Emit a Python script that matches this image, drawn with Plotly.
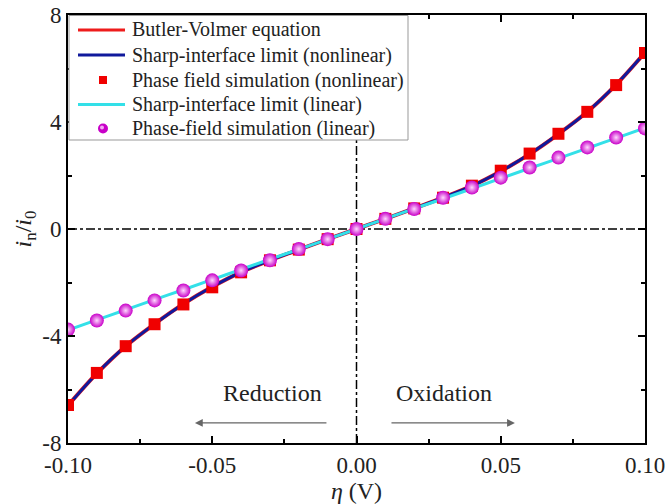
import plotly.graph_objects as go

eta = [-0.10, -0.09, -0.08, -0.07, -0.06, -0.05, -0.04, -0.03, -0.02, -0.01, 0.00,
       0.01, 0.02, 0.03, 0.04, 0.05, 0.06, 0.07, 0.08, 0.09, 0.10]
bv_curve = [-6.6, -5.4, -4.38, -3.55, -2.8, -2.16, -1.61, -1.17, -0.77, -0.38, 0.0,
            0.38, 0.77, 1.17, 1.61, 2.16, 2.8, 3.55, 4.38, 5.4, 6.6]
sharp_nonlin = [-6.6, -5.4, -4.38, -3.55, -2.8, -2.16, -1.61, -1.17, -0.77, -0.38, 0.0,
                0.38, 0.77, 1.17, 1.61, 2.16, 2.8, 3.55, 4.38, 5.4, 6.6]
pf_nonlin = [-6.58, -5.38, -4.38, -3.56, -2.82, -2.18, -1.62, -1.17, -0.77, -0.38, 0.0,
             0.38, 0.77, 1.17, 1.62, 2.18, 2.82, 3.56, 4.38, 5.38, 6.58]
sharp_lin = [-3.78, -3.4, -3.02, -2.64, -2.27, -1.89, -1.51, -1.13, -0.76, -0.38, 0.0,
             0.38, 0.76, 1.13, 1.51, 1.89, 2.27, 2.64, 3.02, 3.4, 3.78]
pf_lin = [-3.76, -3.42, -3.05, -2.67, -2.3, -1.92, -1.55, -1.17, -0.75, -0.38, 0.0,
          0.38, 0.75, 1.17, 1.55, 1.92, 2.3, 2.67, 3.05, 3.42, 3.76]

x_ticks = [-0.10, -0.05, 0.00, 0.05, 0.10]
x_ticktext = ["-0.10", "-0.05", "0.00", "0.05", "0.10"]
y_ticks = [-8, -4, 0, 4, 8]
y_ticktext = ["-8", "-4", "0", "4", "8"]

legend_labels = ["Butler-Volmer equation",
                 "Sharp-interface limit (nonlinear)",
                 "Phase field simulation (nonlinear)",
                 "Sharp-interface limit (linear)",
                 "Phase-field simulation (linear)"]

FONT = "Liberation Serif, Times New Roman, serif"
C_BV = "#ee1c1c"
C_SN = "#101a9c"
C_SL = "#33e0e8"
C_PN = "#f00000"
C_PL = "#c800c8"

W, H = 670, 504
L, R, T, B = 68, 25, 15, 61
PW, PH = W - L - R, H - T - B


def px(xs):
    # screen pixel -> plot-relative paper coordinate
    return (xs - L) / PW


def py(ys):
    return (H - B - ys) / PH


fig = go.Figure()
fig.add_trace(go.Scatter(x=eta, y=bv_curve, mode="lines", name=legend_labels[0],
                         line=dict(color=C_BV, width=4, shape="spline")))
fig.add_trace(go.Scatter(x=eta, y=sharp_nonlin, mode="lines", name=legend_labels[1],
                         line=dict(color=C_SN, width=3, shape="spline")))
fig.add_trace(go.Scatter(x=eta, y=sharp_lin, mode="lines", name=legend_labels[3],
                         line=dict(color=C_SL, width=3, shape="spline")))
fig.add_trace(go.Scatter(x=eta, y=pf_nonlin, mode="markers", name=legend_labels[2],
                         marker=dict(symbol="square", color=C_PN, size=12, line=dict(width=0))))
fig.add_trace(go.Scatter(x=eta, y=pf_lin, mode="markers", name=legend_labels[4],
                         marker=dict(symbol="circle", color=C_PL, size=14,
                                     gradient=dict(type="radial", color="#ffd8ff"),
                                     line=dict(width=0))))

# dash-dot reference lines
fig.add_shape(type="line", x0=0, x1=0, y0=-8, y1=8, xref="x", yref="y",
              line=dict(color="black", width=1.5, dash="dashdot"), layer="below")
fig.add_shape(type="line", x0=-0.10, x1=0.10, y0=0, y1=0, xref="x", yref="y",
              line=dict(color="black", width=1.5, dash="dashdot"), layer="below")

# arrows and labels
fig.add_annotation(x=-0.056, y=-7.25, ax=-0.0099, ay=-7.25, xref="x", yref="y", axref="x", ayref="y",
                   text="", showarrow=True, arrowhead=2, arrowsize=1.2, arrowwidth=1.3, arrowcolor="#666666")
fig.add_annotation(x=0.0549, y=-7.25, ax=0.0116, ay=-7.25, xref="x", yref="y", axref="x", ayref="y",
                   text="", showarrow=True, arrowhead=2, arrowsize=1.2, arrowwidth=1.3, arrowcolor="#666666")
fig.add_annotation(x=-0.0291, y=-6.13, xref="x", yref="y", text="Reduction", showarrow=False,
                   font=dict(family=FONT, size=24, color="#222"))
fig.add_annotation(x=0.0303, y=-6.13, xref="x", yref="y", text="Oxidation", showarrow=False,
                   font=dict(family=FONT, size=24, color="#222"))

# custom legend (drawn in plot-relative paper coordinates)
fig.add_shape(type="rect", xref="paper", yref="paper", x0=px(69), x1=px(408), y0=py(140), y1=py(15.5),
              fillcolor="white", line=dict(color="#999999", width=1), layer="above")
row_y = [30, 55, 80, 104.5, 128.5]
line_rows = [(0, C_BV, 3), (1, C_SN, 3), (3, C_SL, 3)]
for idx, col, wdt in line_rows:
    fig.add_shape(type="line", xref="paper", yref="paper", x0=px(78), x1=px(125),
                  y0=py(row_y[idx]), y1=py(row_y[idx]), line=dict(color=col, width=wdt), layer="above")
fig.add_shape(type="rect", xref="paper", yref="paper", x0=px(99), x1=px(107),
              y0=py(row_y[2] + 4), y1=py(row_y[2] - 4), fillcolor=C_PN, line=dict(width=0), layer="above")
fig.add_shape(type="circle", xref="paper", yref="paper", x0=px(98), x1=px(108),
              y0=py(row_y[4] + 5), y1=py(row_y[4] - 5), fillcolor=C_PL, line=dict(width=0), layer="above")
fig.add_shape(type="circle", xref="paper", yref="paper", x0=px(100), x1=px(104),
              y0=py(row_y[4] + 1), y1=py(row_y[4] - 3), fillcolor="#f2a8f2", line=dict(width=0), layer="above")
for i, lab in enumerate(legend_labels):
    fig.add_annotation(x=px(130), y=py(row_y[i]), xref="paper", yref="paper", text=lab,
                       showarrow=False, xanchor="left", yanchor="middle",
                       font=dict(family=FONT, size=20, color="#222"))

axis_common = dict(showline=True, linecolor="black", linewidth=2, mirror="allticks",
                   ticks="inside", ticklen=7, tickwidth=1.5, tickcolor="black",
                   showgrid=False, zeroline=False, automargin=False,
                   tickfont=dict(family=FONT, size=23, color="#222"))

fig.update_xaxes(range=[-0.10, 0.10], tickvals=x_ticks, ticktext=x_ticktext,
                 minor=dict(ticks="inside", ticklen=4, tickwidth=1.5, dtick=0.025, tick0=0, tickcolor="black"),
                 title=dict(text="<i>η</i> (V)", font=dict(family=FONT, size=24, color="#222"), standoff=0),
                 **axis_common)
fig.update_yaxes(range=[-8, 8], tickvals=y_ticks, ticktext=y_ticktext,
                 minor=dict(ticks="inside", ticklen=4, tickwidth=1.5, dtick=2, tick0=0, tickcolor="black"),
                 title=dict(text="<i>i</i><sub>n</sub>/<i>i</i><sub>0</sub>",
                            font=dict(family=FONT, size=24, color="#222"), standoff=4),
                 **axis_common)

fig.update_layout(
    width=W, height=H,
    margin=dict(l=L, r=R, t=T, b=B),
    paper_bgcolor="white", plot_bgcolor="white",
    font=dict(family=FONT, color="#222"),
    showlegend=False,
)

fig.write_html("out.html",
               config={"displayModeBar": False},
               post_script="document.body.style.margin='0px';document.body.style.padding='0px';"
                           "document.body.style.overflow='hidden';")
